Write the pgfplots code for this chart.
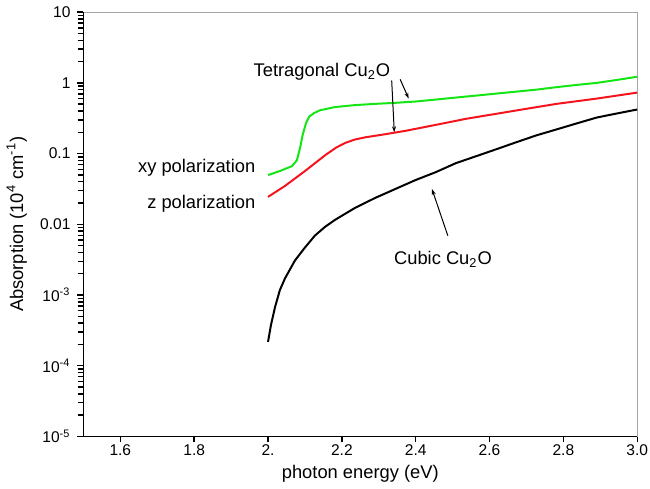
\documentclass[border=0pt]{standalone}
\usepackage{fontspec}
\setmainfont{Liberation Sans}
\usepackage{pgfplots}
\pgfplotsset{compat=1.18}
\usetikzlibrary{arrows.meta}
\definecolor{cgreen}{RGB}{20,230,20}
\definecolor{cred}{RGB}{245,20,30}
\begin{document}
\begin{tikzpicture}[annot/.style={font=\fontsize{9.2}{11}\selectfont, inner sep=1pt}]
\begin{semilogyaxis}[
  scale only axis, width=278pt, height=213pt,
  xmin=1.5, xmax=3.0, ymin=1e-5, ymax=10,
  xtick={1.6,1.8,2.0,2.2,2.4,2.6,2.8,3.0},
  xticklabels={1.6,1.8,2.,2.2,2.4,2.6,2.8,3.0},
  ytick={1e-5,1e-4,1e-3,1e-2,1e-1,1,10},
  yticklabels={10\textsuperscript{-5},10\textsuperscript{-4},10\textsuperscript{-3},0.01,0.1,1,10},
  extra y ticks={2e-5,3e-5,4e-5,5e-5,6e-5,7e-5,8e-5,9e-5,
               2e-4,3e-4,4e-4,5e-4,6e-4,7e-4,8e-4,9e-4,
               2e-3,3e-3,4e-3,5e-3,6e-3,7e-3,8e-3,9e-3,
               0.02,0.03,0.04,0.05,0.06,0.07,0.08,0.09,
               0.2,0.3,0.4,0.5,0.6,0.7,0.8,0.9,
               2,3,4,5,6,7,8,9},
  extra y tick labels={},
  extra y tick style={major tick length=1.8pt, yticklabel=\empty},
  xtick pos=bottom, ytick pos=left, tick align=outside,
  major tick length=3pt,
  every tick/.style={black, line width=0.7pt},
  axis line style={draw=gray!70, line width=0.4pt},
  xlabel={photon energy (eV)},
  ylabel={Absorption (10\textsuperscript{4} cm\textsuperscript{-1})},
  label style={font=\fontsize{9.2}{11}\selectfont},
  ylabel style={yshift=-5pt},
  tick label style={font=\fontsize{7.8}{9}\selectfont},
  xticklabel style={inner sep=1pt},
  clip=false,
]
\draw[black, line width=0.8pt] (rel axis cs:0,1) -- (rel axis cs:0,0) -- (rel axis cs:1,0);
% green: xy polarization
\addplot[cgreen, line width=1pt] coordinates {
(2.000,0.0497) (2.032,0.0566) (2.065,0.0665) (2.078,0.080) (2.086,0.115) (2.094,0.185)
(2.103,0.270) (2.112,0.335) (2.125,0.375) (2.141,0.410) (2.182,0.455) (2.236,0.485)
(2.291,0.505) (2.345,0.522) (2.400,0.545) (2.455,0.581) (2.509,0.620)
(2.564,0.661) (2.618,0.705) (2.673,0.752) (2.727,0.802) (2.782,0.870)
(2.836,0.935) (2.891,1.00) (2.945,1.10) (3.000,1.22)
};
% red: z polarization
\addplot[cred, line width=1pt] coordinates {
(2.000,0.0244) (2.046,0.0349) (2.100,0.0566) (2.155,0.0950) (2.185,0.122)
(2.210,0.142) (2.235,0.158) (2.264,0.170) (2.318,0.188) (2.373,0.210) (2.455,0.255) (2.536,0.310)
(2.618,0.365) (2.700,0.430) (2.782,0.505) (2.891,0.600) (3.000,0.728)
};
% black: cubic
\addplot[black, line width=1pt] coordinates {
(2.000,2.17e-4) (2.008,3.77e-4) (2.019,6.74e-4) (2.032,1.17e-3) (2.046,1.72e-3)
(2.073,3.08e-3) (2.100,4.69e-3) (2.127,6.92e-3) (2.155,9.25e-3) (2.182,0.0116)
(2.236,0.0171) (2.291,0.0237) (2.345,0.0316) (2.400,0.0423) (2.455,0.0548)
(2.509,0.0733) (2.564,0.0919) (2.618,0.115) (2.673,0.145) (2.727,0.181)
(2.782,0.220) (2.836,0.267) (2.891,0.324) (2.945,0.369) (3.000,0.420)
};
\node[annot] at (axis cs:2.146,1.42) {Tetragonal Cu\textsubscript{2}O};
\draw[-{Stealth[length=3pt,width=2pt]}, line width=0.5pt] (axis cs:2.335,1.08) -- (axis cs:2.342,0.20);
\draw[-{Stealth[length=3pt,width=2pt]}, line width=0.5pt] (axis cs:2.358,1.12) -- (axis cs:2.381,0.60);
\draw[-{Stealth[length=3pt,width=2pt]}, line width=0.5pt] (axis cs:2.487,6.9e-3) -- (axis cs:2.444,0.0316);
\node[annot, anchor=west] at (axis cs:2.335,3.18e-3) {Cubic Cu\textsubscript{2}O};
\node[annot, anchor=east] at (axis cs:1.972,0.0623) {xy polarization};
\node[annot, anchor=east] at (axis cs:1.972,0.0195) {z polarization};
\end{semilogyaxis}
\end{tikzpicture}
\end{document}
